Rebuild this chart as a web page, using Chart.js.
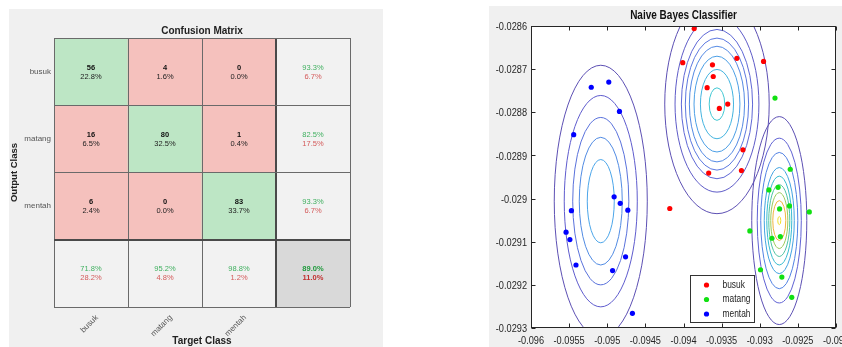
<!DOCTYPE html>
<html lang="en">
<head>
<meta charset="utf-8" />
<title>Confusion Matrix and Naive Bayes Classifier</title>
<style>
  body { margin: 0; width: 842px; height: 347px; background: #fff; position: relative; overflow: hidden; }
  .panel { position: absolute; background: #f0f0f0; }
  canvas { position: absolute; top: 0; }
</style>
</head>
<body>
<div class="panel" style="left:9px;top:9px;width:374px;height:338px"></div>
<div class="panel" style="left:489px;top:6px;width:353px;height:341px"></div>
<canvas id="matrix" width="390" height="347" style="left:0"></canvas>
<canvas id="bayes" width="422" height="347" style="left:420px"></canvas>
<script src="https://cdn.jsdelivr.net/npm/chart.js@4.4.0/dist/chart.umd.min.js"></script>
<script>
// ---- confusion matrix values ----
const targetLabels = ['busuk', 'matang', 'mentah', ''];
const outputLabels = ['busuk', 'matang', 'mentah', ''];

const busukCounts = [56, 4, 0];
const matangCounts = [16, 80, 1];
const mentahCounts = [6, 0, 83];
const busukShares = ['22.8%', '1.6%', '0.0%'];
const matangShares = ['6.5%', '32.5%', '0.4%'];
const mentahShares = ['2.4%', '0.0%', '33.7%'];
const rowCorrect = ['93.3%', '82.5%', '93.3%'];
const rowWrong = ['6.7%', '17.5%', '6.7%'];
const colCorrect = ['71.8%', '95.2%', '98.8%'];
const colWrong = ['28.2%', '4.8%', '1.2%'];
const overall = ['89.0%', '11.0%'];
const cellSpan = [1, 1, 1, 1]; // each row of cells is one unit tall

// ---- naive bayes scatter values ----
const busukX = [-0.09386, -0.09401, -0.09362, -0.09330, -0.09295, -0.09361, -0.09369, -0.09342, -0.09353, -0.09322, -0.09324, -0.09367, -0.09418];
const busukY = [-0.028606, -0.028685, -0.02869, -0.028675, -0.028682, -0.028717, -0.028743, -0.028781, -0.028791, -0.028887, -0.028935, -0.028941, -0.029023];
const matangX = [-0.09280, -0.09260, -0.09276, -0.09288, -0.09274, -0.09261, -0.09235, -0.09313, -0.09284, -0.09273, -0.09299, -0.09271, -0.09258];
const matangY = [-0.028767, -0.028932, -0.028974, -0.02898, -0.029024, -0.029017, -0.029031, -0.029075, -0.029092, -0.029088, -0.029165, -0.029182, -0.029229];
const mentahX = [-0.09521, -0.09498, -0.09484, -0.09544, -0.09491, -0.09483, -0.09473, -0.09547, -0.09554, -0.09549, -0.09541, -0.09476, -0.09493, -0.09467];
const mentahY = [-0.028742, -0.02873, -0.028798, -0.028852, -0.028996, -0.029011, -0.029027, -0.029028, -0.029078, -0.029095, -0.029154, -0.029135, -0.029167, -0.029266];

// contour rings: centre and semi axes, outermost first
const busukCenter = [-0.093561, -0.028781];
const busukRingRx = [0.000685, 0.000550, 0.000467, 0.000415, 0.000362, 0.000301, 0.000217, 0.000102];
const busukRingRy = [0.000254, 0.000204, 0.000173, 0.000153, 0.000134, 0.000111, 0.0000803, 0.0000377];
const matangCenter = [-0.092744, -0.029051];
const matangRingRx = [0.000361, 0.000289, 0.000243, 0.000197, 0.000164, 0.000138, 0.000112, 0.0000853, 0.0000197];
const matangRingRy = [0.000241, 0.000191, 0.000158, 0.000123, 0.000103, 0.0000833, 0.0000648, 0.0000463, 0.0000093];
const mentahCenter = [-0.095085, -0.029006];
const mentahRingRx = [0.000610, 0.000479, 0.000368, 0.000282, 0.000177];
const mentahRingRy = [0.000315, 0.000245, 0.000194, 0.000148, 0.0000965];

const busukRingColors = ['#5d50b4', '#5f5cc8', '#5f68d6', '#5c78e0', '#548ae4', '#4c9fe6', '#44b4e0', '#42c8d4'];
const matangRingColors = ['#5d50b4', '#6062d4', '#5282e4', '#43a4e2', '#38bcd0', '#50c4a4', '#9ccb5c', '#f2b53e', '#f2e02a'];
const mentahRingColors = ['#5d50b4', '#5f5cce', '#5a72dc', '#528ce4', '#4ca6ea'];

const sans = '"Liberation Sans", Arial, sans-serif';
const squeeze = 0.8; // text on the right figure is horizontally compressed

// ---------- left: confusion matrix ----------
const green = '#bde6c5', red = '#f5c1bd', light = '#f2f2f2', dark = '#d9d9d9';

function classRow(counts, shares, r) {
  return {
    data: cellSpan,
    backgroundColor: [0, 1, 2, 3].map(c => c === 3 ? light : (c === r ? green : red)),
    top: counts.map(String).concat(rowCorrect[r]),
    bottom: shares.concat(rowWrong[r]),
    kind: ['cell', 'cell', 'cell', 'sum']
  };
}

const summaryRow = {
  data: cellSpan,
  backgroundColor: [light, light, light, dark],
  top: colCorrect.concat(overall[0]),
  bottom: colWrong.concat(overall[1]),
  kind: ['sum', 'sum', 'sum', 'total']
};

const cellText = {
  id: 'cellText',
  afterDatasetsDraw(chart) {
    const ctx = chart.ctx;
    ctx.save();
    ctx.textAlign = 'center';
    ctx.textBaseline = 'middle';
    chart.data.datasets.forEach((ds, i) => {
      chart.getDatasetMeta(i).data.forEach((bar, j) => {
        const cx = bar.x, cy = (bar.y + bar.base) / 2;
        const kind = ds.kind[j];
        ctx.font = (kind === 'sum' ? '' : 'bold ') + '7.5px ' + sans;
        ctx.fillStyle = kind === 'cell' ? '#111' : (kind === 'total' ? '#1f9a3c' : '#40b060');
        ctx.fillText(ds.top[j], cx, cy - 4);
        ctx.font = (kind === 'total' ? 'bold ' : '') + '7.5px ' + sans;
        ctx.fillStyle = kind === 'cell' ? '#222' : (kind === 'total' ? '#c22f2f' : '#d45a5a');
        ctx.fillText(ds.bottom[j], cx, cy + 5);
      });
    });
    ctx.restore();
  }
};

const edgeWidth = c => c.index === 3 ? 2 : 1;
const edgeColor = c => c.index === 3 ? '#4a4a4a' : '#6a6a6a';

new Chart(document.getElementById('matrix'), {
  type: 'bar',
  data: {
    labels: targetLabels,
    datasets: [
      summaryRow,
      classRow(mentahCounts, mentahShares, 2),
      classRow(matangCounts, matangShares, 1),
      classRow(busukCounts, busukShares, 0)
    ]
  },
  options: {
    responsive: false,
    animation: false,
    devicePixelRatio: 1,
    layout: { padding: { left: 0, right: 40, top: 0, bottom: 0 } },
    datasets: { bar: { barPercentage: 1, categoryPercentage: 1, borderWidth: 0 } },
    plugins: {
      legend: { display: false },
      tooltip: { enabled: false },
      title: {
        display: true, text: 'Confusion Matrix', fullSize: false, color: '#222',
        font: { family: sans, size: 10, weight: 'bold', lineHeight: 1.2 },
        padding: { top: 25, bottom: 1 }
      }
    },
    scales: {
      x: {
        stacked: true, offset: true,
        grid: { offset: true, z: 1, color: edgeColor, lineWidth: edgeWidth, drawTicks: false },
        border: { display: false },
        ticks: { autoSkip: false, minRotation: 45, maxRotation: 45, padding: 6, labelOffset: 6, color: '#555', font: { family: sans, size: 8 } },
        title: { display: true, text: 'Target Class', color: '#222', font: { family: sans, size: 10, weight: 'bold' }, padding: 0 },
        afterFit: s => { s.height = 40; s.paddingLeft = 0; s.paddingRight = 0; }
      },
      y: { display: false, stacked: true, min: 0, max: 4 },
      rows: {
        type: 'category', labels: outputLabels, position: 'left', offset: true,
        grid: { offset: true, z: 1, color: edgeColor, lineWidth: edgeWidth, drawTicks: false },
        border: { display: false },
        ticks: { padding: 3, color: '#555', font: { family: sans, size: 8 } },
        title: { display: true, text: 'Output Class', color: '#222', font: { family: sans, size: 9.5, weight: 'bold' }, padding: { top: 9, bottom: 0 } },
        afterFit: s => { s.width = 54; s.paddingTop = 0; s.paddingBottom = 0; }
      }
    }
  },
  plugins: [cellText]
});

// ---------- right: naive bayes scatter ----------
const clusters = [
  { center: mentahCenter, rx: mentahRingRx, ry: mentahRingRy, colors: mentahRingColors },
  { center: busukCenter, rx: busukRingRx, ry: busukRingRy, colors: busukRingColors },
  { center: matangCenter, rx: matangRingRx, ry: matangRingRy, colors: matangRingColors }
];

function squeezedText(ctx, text, x, y, align) {
  ctx.save();
  ctx.translate(x, y);
  ctx.scale(squeeze, 1);
  ctx.textAlign = align;
  ctx.fillText(text, 0, 0);
  ctx.restore();
}

const fmt = v => String(parseFloat(Number(v).toFixed(5)));

const plotBack = {
  id: 'plotBack',
  beforeDraw(chart) {
    const { ctx, chartArea: a } = chart;
    ctx.save();
    ctx.fillStyle = '#fff';
    ctx.fillRect(a.left, a.top, a.width, a.height);
    ctx.restore();
  }
};

const contours = {
  id: 'contours',
  beforeDatasetsDraw(chart) {
    const { ctx, chartArea: a, scales: { x, y } } = chart;
    ctx.save();
    ctx.beginPath();
    ctx.rect(a.left, a.top, a.width, a.height);
    ctx.clip();
    ctx.lineWidth = 1;
    clusters.forEach(c => {
      const cx = x.getPixelForValue(c.center[0]);
      const cy = y.getPixelForValue(c.center[1]);
      c.rx.forEach((rx, k) => {
        const px = Math.abs(x.getPixelForValue(c.center[0] + rx) - cx);
        const py = Math.abs(y.getPixelForValue(c.center[1] + c.ry[k]) - cy);
        ctx.strokeStyle = c.colors[k];
        ctx.beginPath();
        ctx.ellipse(cx, cy, px, py, 0, 0, Math.PI * 2);
        ctx.stroke();
      });
    });
    ctx.restore();
  }
};

// box, inward ticks, tick labels and title in the MATLAB style
const plotFrame = {
  id: 'plotFrame',
  afterDatasetsDraw(chart) {
    const { ctx, chartArea: a, scales: { x, y } } = chart;
    const L = Math.round(a.left) + 0.5, R = Math.round(a.right) - 0.5;
    const T = Math.round(a.top) + 0.5, B = Math.round(a.bottom) - 0.5;
    ctx.save();
    ctx.strokeStyle = '#262626';
    ctx.lineWidth = 1;
    ctx.strokeRect(L, T, R - L, B - T);
    ctx.beginPath();
    x.ticks.forEach(t => {
      const p = Math.round(x.getPixelForValue(t.value)) + 0.5;
      ctx.moveTo(p, B); ctx.lineTo(p, B - 4);
      ctx.moveTo(p, T); ctx.lineTo(p, T + 4);
    });
    y.ticks.forEach(t => {
      const p = Math.round(y.getPixelForValue(t.value)) + 0.5;
      ctx.moveTo(L, p); ctx.lineTo(L + 4, p);
      ctx.moveTo(R, p); ctx.lineTo(R - 4, p);
    });
    ctx.stroke();

    ctx.fillStyle = '#262626';
    ctx.font = '11.5px ' + sans;
    ctx.textBaseline = 'middle';
    x.ticks.forEach(t => squeezedText(ctx, fmt(t.value), x.getPixelForValue(t.value), a.bottom + 13, 'center'));
    y.ticks.forEach(t => squeezedText(ctx, fmt(t.value), a.left - 4, y.getPixelForValue(t.value) + 1, 'right'));

    ctx.fillStyle = '#111';
    ctx.font = 'bold 12.5px ' + sans;
    squeezedText(ctx, 'Naive Bayes Classifier', (a.left + a.right) / 2, 16, 'center');
    ctx.restore();
  }
};

const legendBox = {
  id: 'legendBox',
  afterDraw(chart) {
    const ctx = chart.ctx;
    const bx = 270.5, by = 275.5, bw = 64, bh = 47;
    ctx.save();
    ctx.fillStyle = '#fff';
    ctx.fillRect(bx, by, bw, bh);
    ctx.strokeStyle = '#333';
    ctx.lineWidth = 1;
    ctx.strokeRect(bx, by, bw, bh);
    ctx.font = '10.5px ' + sans;
    ctx.textBaseline = 'middle';
    chart.data.datasets.forEach((ds, i) => {
      const yy = by + 9.5 + i * 14.5;
      ctx.fillStyle = ds.backgroundColor;
      ctx.beginPath();
      ctx.arc(bx + 16, yy, 2.6, 0, Math.PI * 2);
      ctx.fill();
      ctx.fillStyle = '#222';
      squeezedText(ctx, ds.label, bx + 32, yy, 'left');
    });
    ctx.restore();
  }
};

const pairs = (xs, ys) => xs.map((x, i) => ({ x, y: ys[i] }));

new Chart(document.getElementById('bayes'), {
  type: 'scatter',
  data: {
    datasets: [
      { label: 'busuk', data: pairs(busukX, busukY), backgroundColor: '#ff0000' },
      { label: 'matang', data: pairs(matangX, matangY), backgroundColor: '#11e011' },
      { label: 'mentah', data: pairs(mentahX, mentahY), backgroundColor: '#0000ff' }
    ]
  },
  options: {
    responsive: false,
    animation: false,
    devicePixelRatio: 1,
    layout: { padding: { left: 0, right: 6, top: 26, bottom: 0 } },
    elements: { point: { radius: 2.6, hoverRadius: 2.6, borderWidth: 0 } },
    plugins: {
      legend: { display: false },
      tooltip: { enabled: false }
    },
    scales: {
      x: {
        type: 'linear', min: -0.096, max: -0.092,
        grid: { display: false, drawTicks: false },
        border: { display: false },
        ticks: { display: false, stepSize: 0.0005 },
        afterFit: s => { s.height = 19; s.paddingLeft = 0; s.paddingRight = 0; }
      },
      y: {
        type: 'linear', min: -0.0293, max: -0.0286,
        grid: { display: false, drawTicks: false },
        border: { display: false },
        ticks: { display: false, stepSize: 0.0001 },
        afterFit: s => { s.width = 111; s.paddingTop = 0; s.paddingBottom = 0; }
      }
    }
  },
  plugins: [plotBack, contours, plotFrame, legendBox]
});
</script>
</body>
</html>
